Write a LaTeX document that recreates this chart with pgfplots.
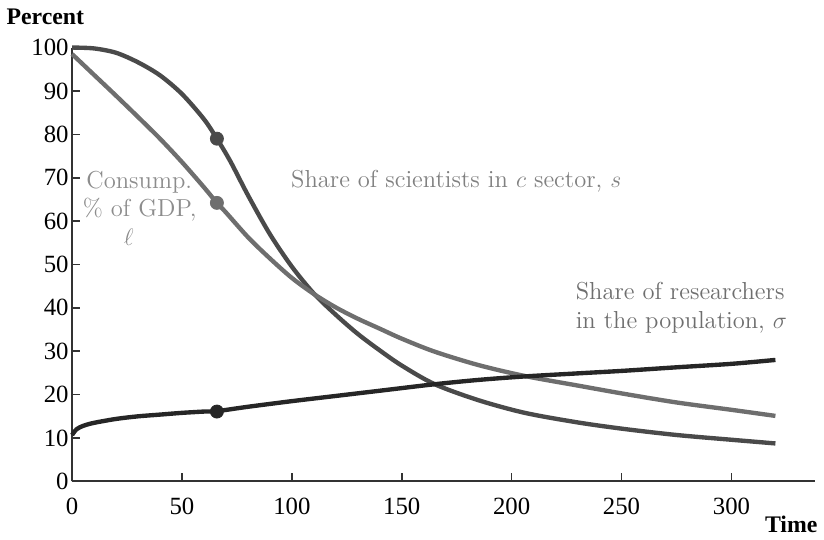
\documentclass[border=0pt]{standalone}
\usepackage{pgfplots}
\pgfplotsset{compat=1.18}
\usepackage{fontspec}
\newfontfamily\timesfont{Liberation Serif}
\definecolor{scol}{HTML}{4A4A4A}
\definecolor{lcol}{HTML}{6E6E6E}
\definecolor{sigcol}{HTML}{262626}
\definecolor{axcol}{HTML}{333333}
\begin{document}
\begin{tikzpicture}
\begin{axis}[
 scale only axis, width=375pt, height=219pt,
 xmin=0, xmax=338, ymin=0, ymax=100,
 axis lines=left, axis line style={-, line width=1pt, color=axcol},
 xtick={0,50,...,300}, ytick={0,10,...,100},
 tick align=inside, major tick length=4pt, tick style={line width=0.8pt, color=axcol},
 ticklabel style={font=\fontsize{12.5}{14}\timesfont},
 /pgf/number format/assume math mode=true,
 xticklabel style={yshift=-5pt},
 yticklabel style={xshift=1.8pt},
 clip=false,
]
\path (rel axis cs:-0.096,1.1096) rectangle (rel axis cs:1.0027,-0.1279);
% s: share of scientists in c sector
\addplot[scol, line width=2.2pt, smooth] coordinates {
(0,100) (10,99.8) (20,98.8) (30,96.6) (40,93.6) (50,89.3) (60,83.5) (65.9,79) (72,73.8) (80.2,65.8) (90,57.0) (100,49.5) (110,43.3) (120,38.4) (130,34.0) (140,30.2) (150,26.7) (165,22.4) (185,18.7) (206,15.8) (230,13.6) (251,12.1) (275,10.7) (300,9.6) (320,8.75)
};
% l: consumption % of GDP
\addplot[lcol, line width=2.2pt, smooth] coordinates {
(0,98.5) (10,93.7) (20,88.9) (30,84.0) (40,79.0) (50,73.6) (60,67.8) (65.9,64.2) (70,62.0) (80.2,56.2) (90,51.4) (100,46.9) (110,43.2) (120,40.1) (130,37.5) (140,35.2) (150,32.9) (165,29.9) (185,26.8) (206,24.3) (230,22.1) (251,20.2) (275,18.2) (300,16.5) (320,15.1)
};
% sigma: share of researchers
\addplot[sigcol, line width=2.2pt, smooth] coordinates {
(0,10.7) (2,12.0) (5,12.8) (10,13.5) (20,14.4) (30,15.0) (40,15.4) (50,15.8) (60,16.1) (65.9,16.2) (80,17.2) (100,18.5) (120,19.7) (140,20.9) (165,22.4) (185,23.4) (206,24.2) (230,24.9) (251,25.5) (275,26.3) (300,27.1) (320,28.0)
};
\addplot[only marks, mark=*, mark size=3.3pt, scol] coordinates {(65.9,79)};
\addplot[only marks, mark=*, mark size=3.3pt, lcol] coordinates {(65.9,64.2)};
\addplot[only marks, mark=*, mark size=3.3pt, sigcol] coordinates {(65.9,16.1)};
\tikzset{ann/.style={font=\fontsize{12.4}{15}\selectfont, inner sep=0pt}}
\node[ann, anchor=base, text=black!45] at (axis cs:30.6,67.6) {Consump.};
\node[ann, anchor=base, text=black!45] at (axis cs:30.8,61.0) {\% of GDP,};
\node[ann, anchor=base, text=black!45] at (axis cs:25.8,54.4) {$\ell$};
\node[ann, anchor=base west, text=black!50] at (axis cs:99.5,67.8) {Share of scientists in $c$ sector, $s$};
\node[ann, anchor=base west, text=black!57] at (axis cs:229.0,42.0) {Share of researchers};
\node[ann, anchor=base west, text=black!57] at (axis cs:229.0,35.3) {in the population, $\sigma$};
\node[font=\fontsize{12}{14}\timesfont\bfseries] at (rel axis cs:-0.036,1.071) {Percent};
\node[font=\fontsize{12}{14}\timesfont\bfseries] at (rel axis cs:0.968,-0.1) {Time};
\end{axis}
\end{tikzpicture}
\end{document}
